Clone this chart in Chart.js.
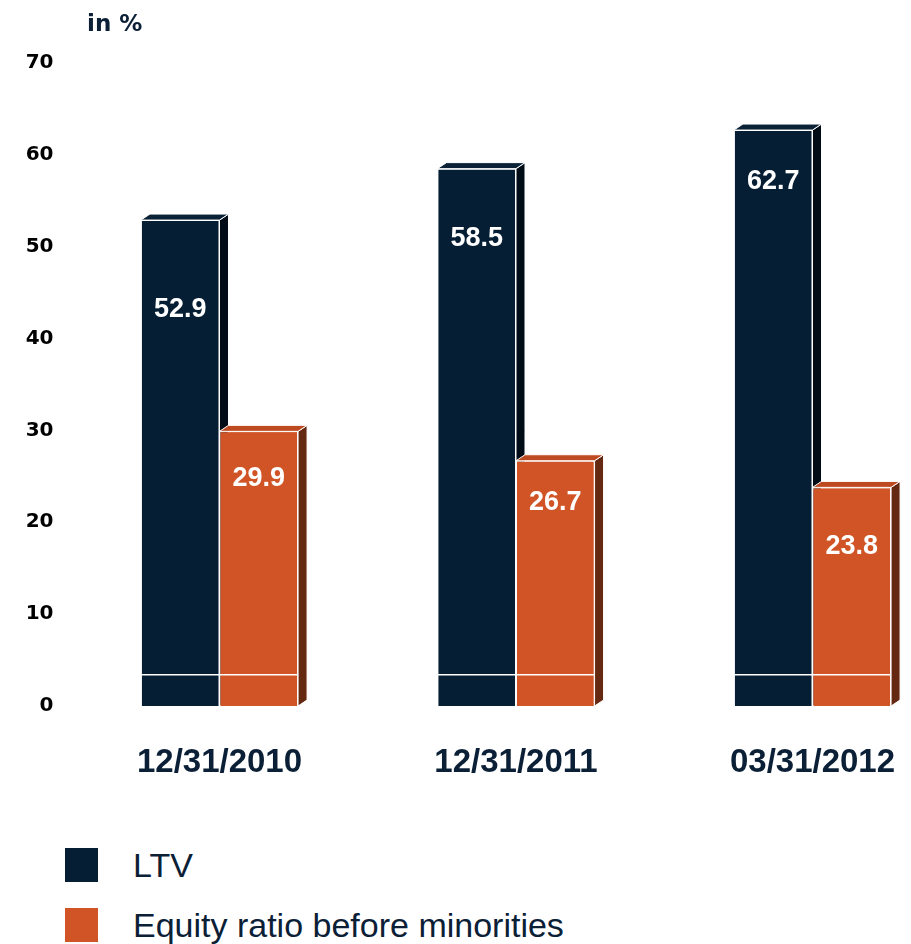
<!DOCTYPE html>
<html>
<head>
<meta charset="utf-8">
<script src="https://cdn.jsdelivr.net/npm/chart.js@4.4.1/dist/chart.umd.min.js"></script>
<style>
  html, body { margin: 0; padding: 0; background: #fff; overflow: hidden; }
  #wrap { position: relative; width: 911px; height: 944px; }
  #unit { position: absolute; left: 87px; top: 10px; font: bold 23px "DejaVu Sans", sans-serif; color: #0b2036; }
  #legend { position: absolute; left: 65px; top: 848px; font: 34px "Liberation Sans", Arial, sans-serif; color: #0b2036; }
  .item { display: flex; align-items: center; height: 34px; margin-bottom: 26px; }
  .swatch { width: 33px; height: 34px; margin-right: 35px; }
</style>
</head>
<body>
<div id="wrap">
  <canvas id="chart" width="911" height="800"></canvas>
  <div id="unit">in %</div>
  <div id="legend"></div>
</div>
<script>
const dates = ["12/31/2010", "12/31/2011", "03/31/2012"];
const ltv = [52.9, 58.5, 62.7];
const equityRatio = [29.9, 26.7, 23.8];
const seriesNames = ["LTV", "Equity ratio before minorities"];
const yTicks = [0, 10, 20, 30, 40, 50, 60, 70];

// look of the boxes
const frontColors = ["#051e33", "#d05425"];
const faceColors = [
  { top: "#0a2136", side: "#020c16" },
  { top: "#bd4a20", side: "#652810" },
];
const depth = { x: 9, y: 6 };
// how far below the top of each bar its value sits (px)
const labelDrop = [[89, 70, 51], [47, 42, 59]];
const stripeValue = 3.4; // the thin white line near the base

function drawFaces(ctx, bar, f) {
  const { x, y, base, width } = bar.getProps(["x", "y", "base", "width"], true);
  const l = x - width / 2;
  const r = x + width / 2;
  ctx.save();
  ctx.strokeStyle = "#ffffff";
  ctx.lineWidth = 1;
  // side face
  ctx.beginPath();
  ctx.moveTo(r, y);
  ctx.lineTo(r + depth.x, y - depth.y);
  ctx.lineTo(r + depth.x, base - depth.y);
  ctx.lineTo(r, base);
  ctx.closePath();
  ctx.fillStyle = f.side;
  ctx.fill();
  ctx.stroke();
  // top face
  ctx.beginPath();
  ctx.moveTo(l, y);
  ctx.lineTo(l + depth.x, y - depth.y);
  ctx.lineTo(r + depth.x, y - depth.y);
  ctx.lineTo(r, y);
  ctx.closePath();
  ctx.fillStyle = f.top;
  ctx.fill();
  ctx.stroke();
  ctx.restore();
}

const box3d = {
  id: "box3d",
  afterDatasetsDraw(chart) {
    const ctx = chart.ctx;
    // LTV boxes first, then the equity boxes in front of them
    chart.data.datasets.forEach((ds, di) => {
      chart.getDatasetMeta(di).data.forEach((bar) => {
        if (di > 0) bar.draw(ctx);
        drawFaces(ctx, bar, faceColors[di]);
      });
    });

    const yPix = chart.scales.y.getPixelForValue(stripeValue);
    const first = chart.getDatasetMeta(0).data;
    const second = chart.getDatasetMeta(1).data;
    ctx.save();
    // white stripe across the front faces
    ctx.strokeStyle = "#ffffff";
    ctx.lineWidth = 1.5;
    first.forEach((bar, i) => {
      const a = bar.getProps(["x", "width"], true);
      const b = second[i].getProps(["x", "width"], true);
      ctx.beginPath();
      ctx.moveTo(a.x - a.width / 2, yPix);
      ctx.lineTo(b.x + b.width / 2, yPix);
      ctx.stroke();
    });
    // value labels
    ctx.fillStyle = "#ffffff";
    ctx.font = "bold 27px 'Liberation Sans', Arial, sans-serif";
    ctx.textAlign = "center";
    ctx.textBaseline = "middle";
    chart.data.datasets.forEach((ds, di) => {
      chart.getDatasetMeta(di).data.forEach((bar, i) => {
        const { x, y } = bar.getProps(["x", "y"], true);
        ctx.fillText(ds.data[i].toFixed(1), x, y + labelDrop[di][i]);
      });
    });
    ctx.restore();
  },
};

const chart = new Chart(document.getElementById("chart"), {
  type: "bar",
  data: {
    labels: dates,
    datasets: [
      {
        label: seriesNames[0],
        data: ltv,
        backgroundColor: frontColors[0],
        borderColor: "#ffffff",
        borderWidth: 1,
        clip: false,
      },
      {
        label: seriesNames[1],
        data: equityRatio,
        backgroundColor: frontColors[1],
        borderColor: "#ffffff",
        borderWidth: 1,
        clip: false,
      },
    ],
  },
  options: {
    responsive: false,
    animation: false,
    categoryPercentage: 0.53,
    barPercentage: 1,
    layout: { padding: { top: 63, right: 98.5, left: 0, bottom: 0 } },
    plugins: {
      legend: { display: false },
      tooltip: { enabled: false },
    },
    scales: {
      x: {
        offset: false,
        grid: { display: false, drawTicks: false },
        border: { display: false },
        ticks: {
          color: "#0b2036",
          font: { family: "Liberation Sans", weight: "bold", size: 33 },
          padding: 37,
          maxRotation: 0,
          autoSkip: false,
        },
        afterFit: (s) => {
          s.height = 94;
          s.paddingLeft = 0;
          s.paddingRight = 0;
        },
      },
      y: {
        min: 0,
        max: 70,
        afterBuildTicks: (s) => { s.ticks = yTicks.map((v) => ({ value: v })); },
        grid: { display: false, drawTicks: false },
        border: { display: false },
        ticks: {
          color: "#000000",
          font: { family: "DejaVu Sans", weight: "bold", size: 20 },
          padding: 166,
        },
        afterFit: (s) => {
          s.width = 219.5;
          s.paddingTop = 0;
          s.paddingBottom = 0;
        },
      },
    },
  },
  plugins: [box3d],
});

// legend built from the series
const legend = document.getElementById("legend");
seriesNames.forEach((name, i) => {
  const item = document.createElement("div");
  item.className = "item";
  const sw = document.createElement("div");
  sw.className = "swatch";
  sw.style.background = frontColors[i];
  const txt = document.createElement("span");
  txt.textContent = name;
  item.appendChild(sw);
  item.appendChild(txt);
  legend.appendChild(item);
});
</script>
</body>
</html>
